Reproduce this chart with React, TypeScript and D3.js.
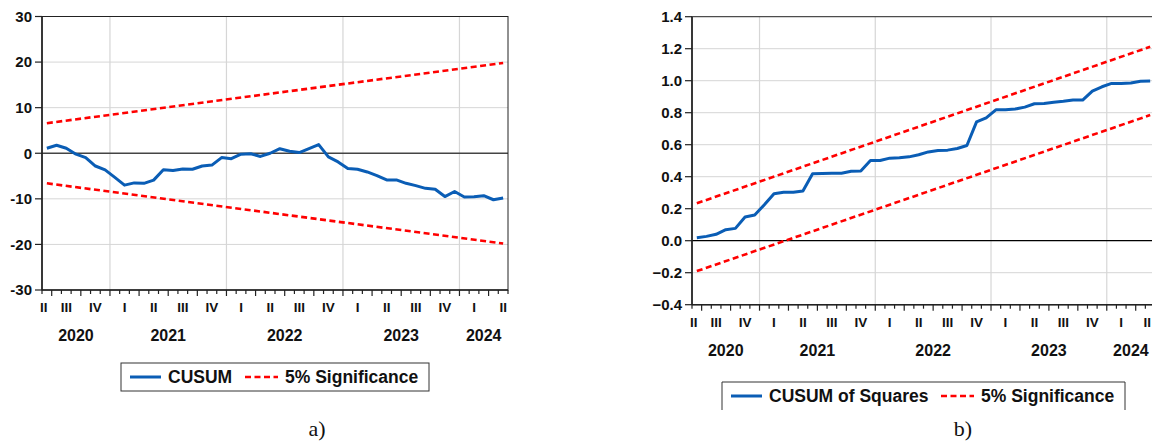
import * as d3 from 'd3';

// monthly observations, Jun 2020 .. May 2024
const START_YEAR = 2020;
const START_MONTH = 6;
const quarterNames = ['I', 'II', 'III', 'IV'];

const cusum = [
  1.1, 1.75, 1.1, -0.2, -0.95, -2.8, -3.65, -5.3, -7.0, -6.5, -6.6, -5.9,
  -3.6, -3.8, -3.45, -3.5, -2.8, -2.6, -0.95, -1.2, -0.2, -0.1, -0.7, 0.0,
  1.0, 0.45, 0.15, 1.0, 1.9, -0.8, -1.9, -3.35, -3.5, -4.1, -4.9, -5.85,
  -5.85, -6.6, -7.1, -7.7, -7.9, -9.5, -8.4, -9.6, -9.55, -9.3, -10.2, -9.8,
];
const cusumUpper = [6.6, 19.8];
const cusumLower = [-6.6, -19.8];
const cusumTicks = [-30, -20, -10, 0, 10, 20, 30];

const cusumSq = [
  0.019, 0.027, 0.04, 0.069, 0.077, 0.148, 0.161, 0.225, 0.294, 0.303, 0.303, 0.311,
  0.418, 0.42, 0.422, 0.422, 0.434, 0.436, 0.501, 0.501, 0.516, 0.518, 0.524, 0.537,
  0.555, 0.564, 0.566, 0.576, 0.595, 0.743, 0.768, 0.818, 0.818, 0.823, 0.835, 0.856,
  0.858, 0.866, 0.871, 0.879, 0.879, 0.935, 0.962, 0.983, 0.983, 0.985, 0.996, 0.998,
];
const sqUpper = [0.234, 1.212];
const sqLower = [-0.19, 0.785];
const sqTicks = [-0.4, -0.2, 0.0, 0.2, 0.4, 0.6, 0.8, 1.0, 1.2, 1.4];

const BLUE = '#0a5db5';
const RED = '#ff0000';
const GRID = '#d6d6d6';
const FONT = '"Liberation Sans", Arial, sans-serif';
const SERIF = '"Liberation Serif", "Times New Roman", serif';

type PanelProps = {
  x0: number;
  x1: number;
  yTop: number;
  yBot: number;
  ticks: number[];
  fmt: (v: number) => string;
  values: number[];
  upper: number[];
  lower: number[];
  zeroColor: string;
  clipRight: number;
};

function Panel({ x0, x1, yTop, yBot, ticks, fmt, values, upper, lower, zeroColor, clipRight }: PanelProps) {
  const n = values.length;
  const x = d3.scaleLinear().domain([0, n]).range([x0, x1]);
  const y = d3.scaleLinear().domain(d3.extent(ticks) as [number, number]).range([yBot, yTop]);
  const line = d3.line<number>().x((_, i) => x(i + 0.5)).y((d) => y(d));
  const bound = d3.line<number>().x((_, i) => x(i === 0 ? 0.5 : n - 0.5)).y((d) => y(d));

  const m0 = START_MONTH - 1;
  const boundaries = d3.range(n + 1).map((k) => ({ k, m: (m0 + k) % 12 }));

  // quarters overlapping the sample
  const firstQ = Math.floor(m0 / 3);
  const quarters: { k: number; label: string }[] = [];
  for (let q = 0; ; q++) {
    const k = (firstQ + q) * 3 - m0;
    if (k >= n) break;
    quarters.push({ k, label: quarterNames[(firstQ + q) % 4] });
  }

  const years: { lo: number; hi: number; label: string }[] = [];
  for (let yr = 0; ; yr++) {
    const k = yr * 12 - m0;
    if (k >= n) break;
    years.push({ lo: Math.max(k, 0), hi: Math.min(k + 12, n), label: String(START_YEAR + yr) });
  }

  const qSize = 13.5;
  const ySize = 16;
  const right = Math.min(x1, clipRight);

  return (
    <g>
      {/* grid */}
      {ticks.slice(1, -1).filter((t) => t !== 0).map((t) => (
        <line key={'h' + t} x1={x0} x2={x1} y1={y(t)} y2={y(t)} stroke={GRID} strokeWidth={1} />
      ))}
      {boundaries.filter((b) => b.m === 0 && b.k > 0 && b.k < n).map((b) => (
        <line key={'v' + b.k} x1={x(b.k)} x2={x(b.k)} y1={yTop} y2={yBot} stroke={GRID} strokeWidth={1.2} />
      ))}
      <line x1={x0} x2={x1} y1={y(0)} y2={y(0)} stroke={zeroColor} strokeWidth={1.3} />

      {/* frame */}
      <rect x={x0} y={yTop} width={x1 - x0} height={yBot - yTop} fill="none" stroke="#222" strokeWidth={1} />
      <line x1={x0} x2={x0} y1={yTop} y2={yBot} stroke="#222" strokeWidth={1.6} />
      <line x1={x0} x2={x1} y1={yBot} y2={yBot} stroke="#222" strokeWidth={1.6} />

      {/* y axis */}
      {ticks.map((t) => (
        <g key={'yt' + t}>
          <line x1={x0 - 7} x2={x0} y1={y(t)} y2={y(t)} stroke="#222" strokeWidth={1.2} />
          <text x={x0 - 10} y={y(t)} dy="0.36em" textAnchor="end" fontFamily={FONT} fontWeight="bold" fontSize={15} fill="#111">
            {fmt(t)}
          </text>
        </g>
      ))}

      {/* x axis ticks */}
      {boundaries.map((b) => (
        <line key={'xt' + b.k} x1={x(b.k)} x2={x(b.k)} y1={yBot} y2={yBot + (b.m % 3 === 0 ? 6 : 4)} stroke="#222" strokeWidth={1.2} />
      ))}
      {quarters.map((q) => {
        const c = x(q.k + 1.5);
        const w = q.label.length * 0.3 * qSize;
        let anchor = 'middle';
        let px = c;
        if (c - w / 2 < x0 - 2) {
          anchor = 'start';
          px = x0 - 2;
        } else if (c + w / 2 > right - 1) {
          anchor = 'end';
          px = right - 1;
        }
        return (
          <text key={'q' + q.k} x={px} y={yBot + 22} textAnchor={anchor} fontFamily={FONT} fontWeight="bold" fontSize={qSize} fill="#111">
            {q.label}
          </text>
        );
      })}
      {years.map((yr) => {
        const c = x((yr.lo + yr.hi) / 2);
        const w = 2.3 * ySize;
        let anchor = 'middle';
        let px = c;
        if (c + w / 2 > right - 1) {
          anchor = 'end';
          px = right - 2;
        }
        return (
          <text key={'y' + yr.label} x={px} y={yBot + 51} textAnchor={anchor} fontFamily={FONT} fontWeight="bold" fontSize={ySize} fill="#111">
            {yr.label}
          </text>
        );
      })}

      {/* series */}
      <path d={bound(upper) ?? ''} fill="none" stroke={RED} strokeWidth={2.6} strokeDasharray="6,3.5" />
      <path d={bound(lower) ?? ''} fill="none" stroke={RED} strokeWidth={2.6} strokeDasharray="6,3.5" />
      <path d={line(values) ?? ''} fill="none" stroke={BLUE} strokeWidth={3} strokeLinejoin="round" />
    </g>
  );
}

type LegendProps = {
  x: number;
  y: number;
  w: number;
  label: string;
  sigX: number;
  noBottom?: boolean;
};

function Legend({ x, y, w, label, sigX, noBottom }: LegendProps) {
  const h = 28;
  const mid = y + h / 2;
  return (
    <g fontFamily={FONT} fontWeight="bold" fontSize={17.5} fill="#111">
      {noBottom ? (
        <path d={`M${x},${y + h}V${y}H${x + w}V${y + h}`} fill="none" stroke="#333" strokeWidth={1} />
      ) : (
        <rect x={x} y={y} width={w} height={h} fill="none" stroke="#333" strokeWidth={1} />
      )}
      <line x1={x + 9} x2={x + 40} y1={mid} y2={mid} stroke={BLUE} strokeWidth={3} />
      <text x={x + 47} y={mid} dy="0.36em">{label}</text>
      <line x1={sigX} x2={sigX + 33} y1={mid} y2={mid} stroke={RED} strokeWidth={2.6} strokeDasharray="6,3.5" />
      <text x={sigX + 40} y={mid} dy="0.36em">5% Significance</text>
    </g>
  );
}

export default function App() {
  return (
    <svg width={1152} height={443} style={{ position: 'absolute', left: 0, top: 0, background: '#fff' }}>
      <Panel
        x0={42}
        x1={508}
        yTop={16.5}
        yBot={290}
        ticks={cusumTicks}
        fmt={(v) => String(v)}
        values={cusum}
        upper={cusumUpper}
        lower={cusumLower}
        zeroColor="#444"
        clipRight={1152}
      />
      <Panel
        x0={692}
        x1={1155}
        yTop={16.7}
        yBot={304.7}
        ticks={sqTicks}
        fmt={(v) => d3.format('.1f')(v)}
        values={cusumSq}
        upper={sqUpper}
        lower={sqLower}
        zeroColor="#000"
        clipRight={1152}
      />
      <Legend x={121} y={363} w={308} label="CUSUM" sigX={245} />
      <Legend x={722} y={382} w={403} label="CUSUM of Squares" sigX={941} noBottom />
      <text x={317} y={436} textAnchor="middle" fontFamily={SERIF} fontSize={22} fill="#111">a)</text>
      <text x={963} y={436} textAnchor="middle" fontFamily={SERIF} fontSize={22} fill="#111">b)</text>
    </svg>
  );
}
